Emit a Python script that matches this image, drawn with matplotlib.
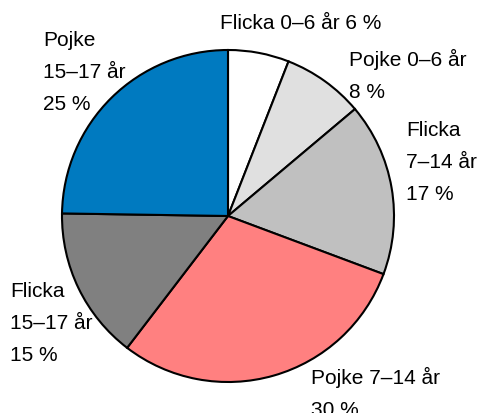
import matplotlib
matplotlib.use("Agg")
import matplotlib.pyplot as plt

labels = ["Flicka 0–6 år 6 %", "Pojke 0–6 år\n8 %", "Flicka\n7–14 år\n17 %",
          "Pojke 7–14 år\n30 %", "Flicka\n15–17 år\n15 %", "Pojke\n15–17 år\n25 %"]
shares = [6, 8, 17, 30, 15, 25]
colors = ["#ffffff", "#e0e0e0", "#c0c0c0", "#ff8080", "#808080", "#007ac0"]
# label anchor (left x, top y) in pixels
label_pos = [(220, 14), (349, 49), (406, 121), (311, 367), (10, 282), (43, 31)]

W, H = 480, 414
fig = plt.figure(figsize=(W / 100, H / 100), dpi=100)
ax = fig.add_axes([0, 0, 1, 1])
ax.pie(shares, colors=colors, startangle=90, counterclock=False,
       center=(228, H - 217), radius=166, frame=True,
       wedgeprops=dict(edgecolor="black", linewidth=1.5))
ax.set_xlim(0, W)
ax.set_ylim(0, H)
ax.set_aspect("equal")
ax.axis("off")

for txt, (x, y) in zip(labels, label_pos):
    ax.text(x, H - y, txt, ha="left", va="top", fontsize=15,
            family="Liberation Sans", linespacing=1.87)

fig.savefig("out.png", dpi=100)
